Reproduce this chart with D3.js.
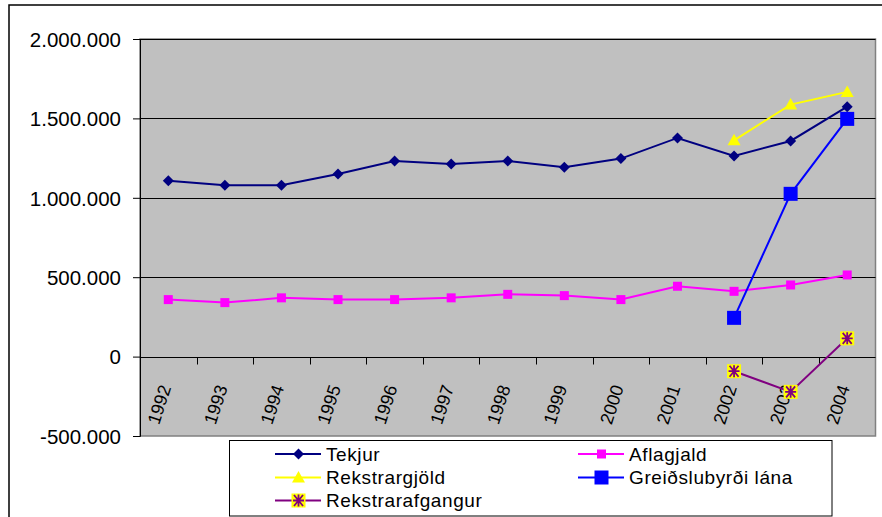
<!DOCTYPE html>
<html lang="is">
<head>
<meta charset="UTF-8">
<title>Tekjur og gjöld</title>
<script src="https://d3js.org/d3.v7.min.js"></script>
<style>
    body { margin: 0; padding: 0; background: #fff; }
    svg { font-family: "Liberation Sans", Arial, sans-serif; display: block; }
    .ylab { font-size: 20.5px; fill: #000; text-anchor: end; }
    .xlab { font-size: 18px; fill: #000; text-anchor: end; }
    .leg { font-size: 19px; fill: #000; letter-spacing: 0.6px; }
</style>
</head>
<body>
<div id="chart"></div>
<script>
    // gögn
    var years = ["1992","1993","1994","1995","1996","1997","1998","1999","2000","2001","2002","2003","2004"];
    var tekjur = [1108000,1079000,1079000,1150000,1232000,1213000,1232000,1192000,1247000,1377000,1264000,1358000,1574000];
    var aflagjald = [359000,340000,370000,359000,359000,370000,392000,384000,359000,443000,411000,451000,514000];
    var rekstrargjold = [null,null,null,null,null,null,null,null,null,null,1362000,1587000,1667000];
    var greidslubyrdi = [null,null,null,null,null,null,null,null,null,null,244000,1025000,1497000];
    var rekstrarafgangur = [null,null,null,null,null,null,null,null,null,null,-92000,-222000,115000];
    var yTicks = [-500000, 0, 500000, 1000000, 1500000, 2000000];

    var series = [
        {name: "Tekjur", values: tekjur, color: "#000080", marker: "diamond"},
        {name: "Aflagjald", values: aflagjald, color: "#FF00FF", marker: "square"},
        {name: "Rekstrargjöld", values: rekstrargjold, color: "#FFFF00", marker: "triangle"},
        {name: "Greiðslubyrði lána", values: greidslubyrdi, color: "#0000FF", marker: "bigsquare"},
        {name: "Rekstrarafgangur", values: rekstrarafgangur, color: "#800080", marker: "star"}
    ];

    var W = 882, H = 517;
    var plot = {left: 140, right: 875.5, top: 39, bottom: 436};

    var svg = d3.select("#chart").append("svg")
        .attr("width", W).attr("height", H);

    // ytri rammi
    svg.append("rect")
        .attr("x", 9).attr("y", 5)
        .attr("width", 900).attr("height", 600)
        .style("fill", "#fff").style("stroke", "#000").style("stroke-width", 1.5);

    var x = d3.scaleBand().domain(years).range([plot.left, plot.right]);
    var y = d3.scaleLinear().domain([-500000, 2000000]).range([plot.bottom, plot.top]);

    var locale = d3.formatLocale({decimal: ",", thousands: ".", grouping: [3], currency: ["", ""], minus: "-"});
    var fmt = locale.format(",");

    // bakgrunnur
    svg.append("rect")
        .attr("x", plot.left).attr("y", plot.top)
        .attr("width", plot.right - plot.left).attr("height", plot.bottom - plot.top)
        .style("fill", "#C0C0C0").style("stroke", "#808080").style("stroke-width", 1.5);

    // hnitanetslínur
    svg.append("g").selectAll("line")
        .data(yTicks.filter(function(d) { return d > -500000 && d !== 0; }))
        .enter().append("line")
        .attr("x1", plot.left).attr("x2", plot.right)
        .attr("y1", function(d) { return Math.round(y(d)) + 0.5; })
        .attr("y2", function(d) { return Math.round(y(d)) + 0.5; })
        .style("stroke", "#000").style("stroke-width", 1);

    // y-ás
    var yAxis = svg.append("g")
        .attr("transform", "translate(" + plot.left + ",0)")
        .call(d3.axisLeft(y).tickValues(yTicks).tickSize(7).tickPadding(12).tickFormat(fmt));
    yAxis.select(".domain").style("stroke", "#000");
    yAxis.selectAll(".tick line").style("stroke", "#000");
    yAxis.selectAll("text").attr("class", "ylab").attr("dy", "0.36em");

    // x-ás við núll
    var zeroY = Math.round(y(0)) + 0.5;
    svg.append("line")
        .attr("x1", plot.left).attr("x2", plot.right)
        .attr("y1", zeroY).attr("y2", zeroY)
        .style("stroke", "#000").style("stroke-width", 1);
    svg.append("g").selectAll("line")
        .data(years.slice(1))
        .enter().append("line")
        .attr("x1", function(d) { return Math.round(x(d)) + 0.5; })
        .attr("x2", function(d) { return Math.round(x(d)) + 0.5; })
        .attr("y1", zeroY).attr("y2", zeroY + 7)
        .style("stroke", "#000");

    svg.append("g").selectAll("text")
        .data(years)
        .enter().append("text")
        .attr("class", "xlab")
        .attr("transform", function(d) {
            return "translate(" + (x(d) + x.bandwidth() / 2 - 3) + "," + (zeroY + 28) + ") rotate(-72)";
        })
        .attr("dy", "0.35em")
        .text(function(d) { return d; });

    // merki
    function drawMarker(g, type, color) {
        if (type === "diamond") {
            g.append("path").attr("d", "M0,-5.5L5.5,0L0,5.5L-5.5,0Z").style("fill", color);
        } else if (type === "square") {
            g.append("rect").attr("x", -4.5).attr("y", -4.5).attr("width", 9).attr("height", 9).style("fill", color);
        } else if (type === "bigsquare") {
            g.append("rect").attr("x", -7).attr("y", -7).attr("width", 14).attr("height", 14).style("fill", color);
        } else if (type === "triangle") {
            g.append("path").attr("d", "M0,-6.5L6.5,5L-6.5,5Z").style("fill", color);
        } else if (type === "star") {
            g.append("rect").attr("x", -7).attr("y", -7).attr("width", 14).attr("height", 14).style("fill", "#FFFF00");
            g.append("path").attr("d", "M-4.5,-5.5L4.5,5.5M4.5,-5.5L-4.5,5.5M0,-6L0,6M-5.5,0L5.5,0")
                .style("stroke", color).style("stroke-width", 1.8).style("fill", "none");
        }
    }

    var line = d3.line()
        .defined(function(d) { return d.v !== null; })
        .x(function(d) { return x(d.year) + x.bandwidth() / 2; })
        .y(function(d) { return y(d.v); });

    series.forEach(function(s) {
        var pts = years.map(function(yr, i) { return {year: yr, v: s.values[i]}; });
        svg.append("path")
            .datum(pts)
            .attr("d", line)
            .style("fill", "none").style("stroke", s.color).style("stroke-width", 2);
        pts.filter(function(d) { return d.v !== null; }).forEach(function(d) {
            var g = svg.append("g")
                .attr("transform", "translate(" + (x(d.year) + x.bandwidth() / 2) + "," + y(d.v) + ")");
            drawMarker(g, s.marker, s.color);
        });
    });

    // skýringar
    svg.append("rect")
        .attr("x", 229.5).attr("y", 440.5)
        .attr("width", 602.5).attr("height", 75.5)
        .style("fill", "#fff").style("stroke", "#000").style("stroke-width", 1);

    var legPos = [
        {lx: 275, ty: 454},
        {lx: 578, ty: 454},
        {lx: 275, ty: 477.5},
        {lx: 578, ty: 477.5},
        {lx: 275, ty: 500.5}
    ];
    series.forEach(function(s, i) {
        var p = legPos[i];
        var g = svg.append("g");
        g.append("line")
            .attr("x1", p.lx).attr("x2", p.lx + 46)
            .attr("y1", p.ty).attr("y2", p.ty)
            .style("stroke", s.color).style("stroke-width", 2);
        var m = g.append("g").attr("transform", "translate(" + (p.lx + 23.5) + "," + p.ty + ")");
        drawMarker(m, s.marker, s.color);
        g.append("text")
            .attr("class", "leg")
            .attr("x", p.lx + 51).attr("y", p.ty)
            .attr("dy", "0.35em")
            .text(s.name);
    });
</script>
</body>
</html>
